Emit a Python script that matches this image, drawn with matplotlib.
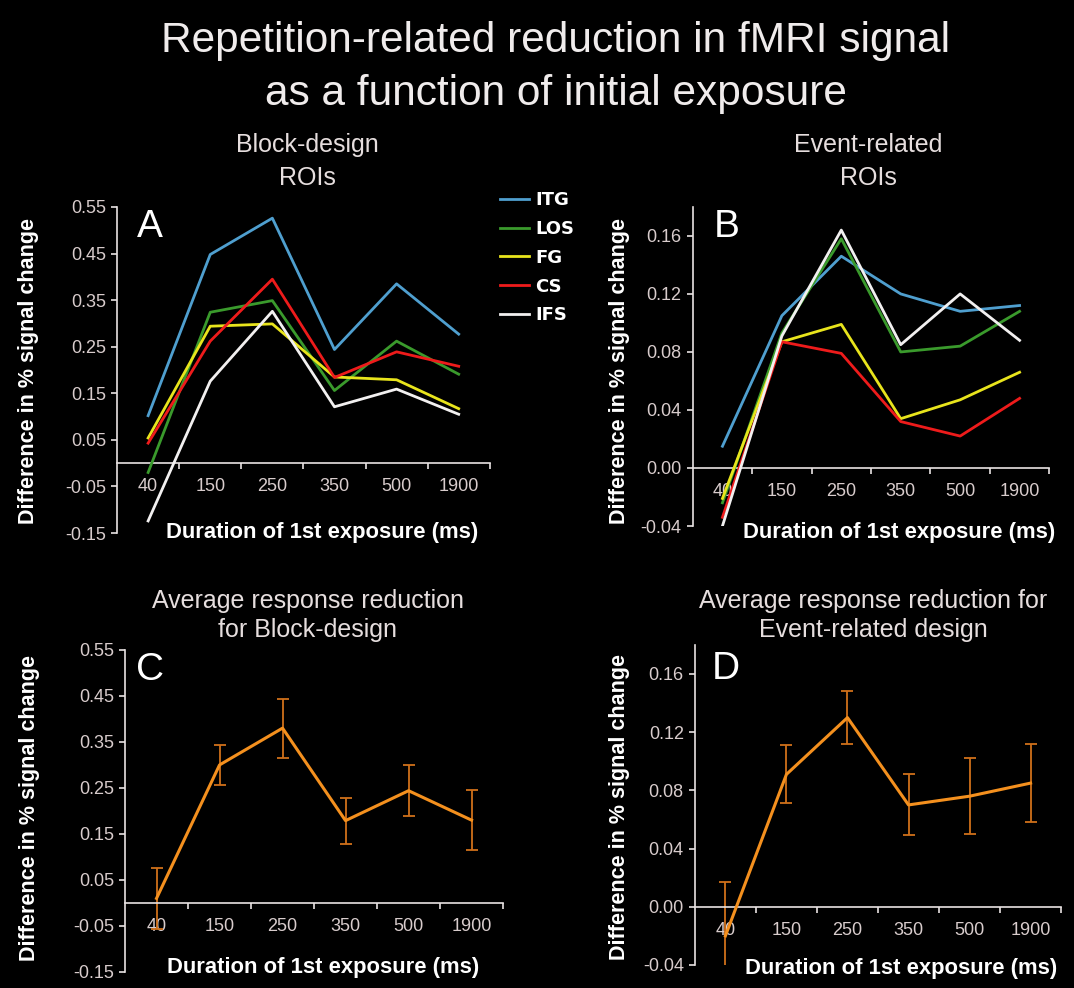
import matplotlib
matplotlib.use("Agg")
import matplotlib.pyplot as plt
from matplotlib import font_manager

# ---------------- data ----------------
durations = ['40', '150', '250', '350', '500', '1900']
roi_names = ['ITG', 'LOS', 'FG', 'CS', 'IFS']

block_itg = [0.102, 0.448, 0.526, 0.244, 0.385, 0.277]
block_los = [-0.020, 0.324, 0.349, 0.156, 0.262, 0.191]
block_fg = [0.054, 0.294, 0.299, 0.185, 0.179, 0.117]
block_cs = [0.043, 0.262, 0.395, 0.184, 0.239, 0.208]
block_ifs = [-0.124, 0.176, 0.326, 0.121, 0.159, 0.105]

event_itg = [0.015, 0.105, 0.146, 0.120, 0.108, 0.112]
event_los = [-0.024, 0.093, 0.158, 0.080, 0.084, 0.108]
event_fg = [-0.021, 0.087, 0.099, 0.034, 0.047, 0.066]
event_cs = [-0.034, 0.087, 0.079, 0.032, 0.022, 0.048]
event_ifs = [-0.040, 0.091, 0.164, 0.085, 0.120, 0.088]

block_mean = [0.010, 0.300, 0.380, 0.179, 0.244, 0.180]
block_err = [0.066, 0.044, 0.064, 0.050, 0.056, 0.065]
event_mean = [-0.020, 0.091, 0.130, 0.070, 0.076, 0.085]
event_err = [0.037, 0.020, 0.018, 0.021, 0.026, 0.027]

block_ticks = [-0.15, -0.05, 0.05, 0.15, 0.25, 0.35, 0.45, 0.55]
event_ticks = [-0.04, 0.00, 0.04, 0.08, 0.12, 0.16]

roi_colors = ['#4f9fcf', '#3a9a2c', '#e8e41c', '#ee1b1b', '#f2f0f0']
orange = '#f4901e'
orange_err = '#d0701a'

# ---------------- style ----------------
avail = {f.name for f in font_manager.fontManager.ttflist}
fam = 'Liberation Sans' if 'Liberation Sans' in avail else 'DejaVu Sans'
plt.rcParams['font.family'] = [fam, 'DejaVu Sans']
plt.rcParams['axes.unicode_minus'] = False

W, H = 1074, 988
fig = plt.figure(figsize=(W / 100, H / 100), dpi=100, facecolor='black')

tick_col = '#d8cccc'
axis_col = '#e8e2e2'
text_col = '#e6dede'


def fx(px):
    return px / W


def fy(py):
    return 1 - py / H


def setup_axes(rect, ylim, yticks, fmt):
    ax = fig.add_axes(rect)
    ax.set_facecolor('black')
    ax.set_xlim(-0.5, 5.5)
    ax.set_ylim(*ylim)
    for s in ['top', 'right']:
        ax.spines[s].set_visible(False)
    ax.spines['left'].set_color(axis_col)
    ax.spines['left'].set_linewidth(1.2)
    ax.spines['bottom'].set_position(('data', 0))
    ax.spines['bottom'].set_color(axis_col)
    ax.spines['bottom'].set_linewidth(1.2)
    ax.set_yticks(yticks)
    ax.set_yticklabels([fmt % v for v in yticks])
    ax.tick_params(axis='y', direction='out', length=4, width=1.2,
                   colors=axis_col, labelcolor=tick_col, labelsize=13, pad=4)
    # boundary ticks (major) and category labels (minor)
    ax.set_xticks([i + 0.5 for i in range(len(durations))])
    ax.set_xticklabels([])
    ax.set_xticks(list(range(len(durations))), minor=True)
    ax.set_xticklabels(durations, minor=True)
    ax.tick_params(axis='x', which='major', direction='out', length=4,
                   width=1.2, colors=axis_col)
    ax.tick_params(axis='x', which='minor', length=0, labelcolor=tick_col,
                   labelsize=13, pad=11)
    return ax


x = list(range(len(durations)))

# Panel A
axA = setup_axes([0.109, 0.4605, 0.347, 0.330], (-0.15, 0.55), block_ticks, '%.2f')
block_series = [block_itg, block_los, block_fg, block_cs, block_ifs]
handles = []
for name, vals, col in zip(roi_names, block_series, roi_colors):
    h, = axA.plot(x, vals, color=col, lw=2.0, label=name, zorder=3)
    handles.append(h)

# Panel B
axB = setup_axes([0.645, 0.4676, 0.332, 0.323], (-0.04, 0.18), event_ticks, '%.2f')
event_series = [event_itg, event_los, event_fg, event_cs, event_ifs]
for name, vals, col in zip(roi_names, event_series, roi_colors):
    axB.plot(x, vals, color=col, lw=2.0, zorder=3)

# Panel C
axC = setup_axes([0.1164, 0.0162, 0.352, 0.326], (-0.15, 0.55), block_ticks, '%.2f')
axC.plot(x, block_mean, color=orange, lw=2.2, zorder=3)
axC.errorbar(x, block_mean, yerr=block_err, fmt='none', ecolor=orange_err,
             elinewidth=1.3, capsize=4, capthick=1.3, zorder=2)

# Panel D
axD = setup_axes([0.647, 0.0233, 0.341, 0.324], (-0.04, 0.18), event_ticks, '%.2f')
axD.plot(x, event_mean, color=orange, lw=2.2, zorder=3)
axD.errorbar(x, event_mean, yerr=event_err, fmt='none', ecolor=orange_err,
             elinewidth=1.3, capsize=4, capthick=1.3, zorder=2)

# Panel letters
for lab, (px, py) in zip(['A', 'B', 'C', 'D'],
                         [(137, 237), (714, 237), (136, 680), (712, 679)]):
    fig.text(fx(px), fy(py), lab, color='white', fontsize=28,
             ha='left', va='baseline')

# Axis labels
ylab_kw = dict(color='white', fontsize=15.5, fontweight='bold', rotation=90,
               ha='center', va='center')
ylab = 'Difference in % signal change'
fig.text(fx(29), fy(371), ylab, **ylab_kw)
fig.text(fx(620), fy(371), ylab, **ylab_kw)
fig.text(fx(30), fy(808), ylab, **ylab_kw)
fig.text(fx(619), fy(807), ylab, **ylab_kw)

xlab = 'Duration of 1st exposure (ms)'
xlab_kw = dict(color='white', fontsize=15.8, fontweight='bold',
               ha='center', va='baseline')
fig.text(fx(322), fy(538), xlab, **xlab_kw)
fig.text(fx(899), fy(538), xlab, **xlab_kw)
fig.text(fx(323), fy(973), xlab, **xlab_kw)
fig.text(fx(901), fy(974), xlab, **xlab_kw)

# Title
title_kw = dict(color='#f0ecec', fontsize=30.5, ha='center', va='baseline')
fig.text(fx(556), fy(52), 'Repetition-related reduction in fMRI signal', **title_kw)
fig.text(fx(556), fy(105), 'as a function of initial exposure', **title_kw)

# Subtitles
sub_kw = dict(color=text_col, fontsize=18, ha='center', va='baseline')
fig.text(fx(307), fy(152), 'Block-design', **sub_kw)
fig.text(fx(307), fy(185), 'ROIs', **sub_kw)
fig.text(fx(868), fy(152), 'Event-related', **sub_kw)
fig.text(fx(868), fy(185), 'ROIs', **sub_kw)
fig.text(fx(308), fy(608), 'Average response reduction', **sub_kw)
fig.text(fx(308), fy(637), 'for Block-design', **sub_kw)
fig.text(fx(873), fy(608), 'Average response reduction for', **sub_kw)
fig.text(fx(873), fy(637), 'Event-related design', **sub_kw)

# Legend
fig.legend(handles=handles, labels=roi_names, loc='upper left',
           bbox_to_anchor=(fx(500), fy(191)), frameon=False,
           prop={'family': 'DejaVu Sans', 'weight': 'bold', 'size': 13},
           labelcolor='white',
           handlelength=1.6, handletextpad=0.35, labelspacing=0.6,
           borderpad=0, borderaxespad=0)

fig.savefig('out.png', dpi=100, facecolor='black')
